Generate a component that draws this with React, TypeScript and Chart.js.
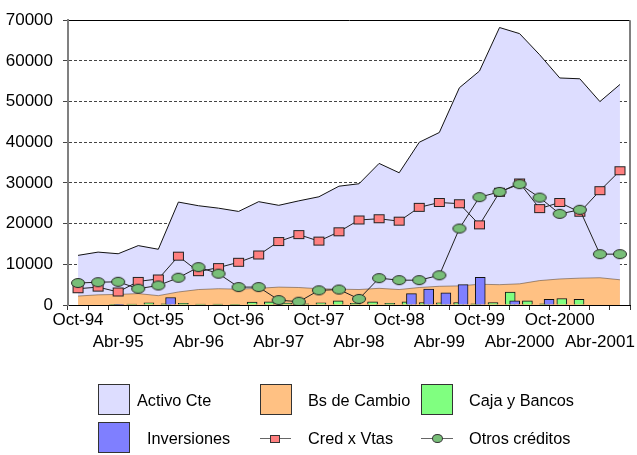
import React, { useEffect, useRef } from 'react';
import { Chart, registerables } from 'chart.js';

Chart.register(...registerables);

const categories = ['Oct-94','Ene-95','Abr-95','Jul-95','Oct-95','Ene-96','Abr-96','Jul-96','Oct-96','Ene-97','Abr-97','Jul-97','Oct-97','Ene-98','Abr-98','Jul-98','Oct-98','Ene-99','Abr-99','Jul-99','Oct-99','Ene-2000','Abr-2000','Jul-2000','Oct-2000','Ene-2001','Abr-2001','Jul-2001'];

const activoCte = [12200,13000,12600,14600,13700,25300,24400,23800,23000,25400,24500,25600,26600,29200,29800,34800,32500,40000,42400,53400,57500,68200,66700,61500,55800,55600,50000,54200];
const bsDeCambio = [2200,2500,2600,2800,2300,3200,3800,4000,3900,4100,4400,4300,4000,3900,3800,4100,3800,4300,4600,4700,5100,5000,5200,6000,6400,6600,6700,6200];
const cajaYBancos = [150,250,550,300,400,250,200,100,700,800,500,300,550,1000,400,800,400,800,600,550,600,300,600,3200,1000,300,1600,1400];
const inversiones = [100,0,0,1850,0,0,0,0,0,0,0,0,0,0,0,0,0,2800,3900,3000,5000,6800,0,1000,0,1400,0,0];
const credXVtas = [4000,4400,3200,5800,6400,12000,8200,9200,10500,12300,15600,17300,15700,18000,20900,21200,20600,24000,25200,24900,19700,27700,30000,23700,25200,22800,28100,33000];
const otrosCreditos = [5400,5600,5700,4000,4800,6700,9300,7700,4400,4400,1200,800,3600,3800,1500,6600,6100,6100,7300,18800,26500,27800,29700,26400,22400,23400,12500,12500];

const yMax = 70000;
const yStep = 5000;
const yLabelStep = 10000;

const FONT = "'Liberation Sans', Arial, sans-serif";
const C_ACTIVO = '#DDDDFF';
const C_BS = '#FFC183';
const C_CAJA = '#80FF80';
const C_INV = '#7F7FFF';
const C_CRED = '#FF7F7F';
const C_OTROS = '#78BE78';

function makeMarker(shape: 'rect' | 'ellipse', w: number, h: number, fill: string) {
  const c = document.createElement('canvas');
  c.width = w + 2;
  c.height = h + 2;
  const ctx = c.getContext('2d')!;
  ctx.fillStyle = fill;
  ctx.strokeStyle = '#222';
  ctx.lineWidth = 1;
  if (shape === 'rect') {
    ctx.fillRect(1, 1, w, h);
    ctx.strokeRect(1.5, 1.5, w - 1, h - 1);
  } else {
    ctx.beginPath();
    ctx.ellipse(c.width / 2, c.height / 2, w / 2 - 0.5, h / 2 - 0.5, 0, 0, Math.PI * 2);
    ctx.fill();
    ctx.stroke();
  }
  return c;
}

const rightBorder = {
  id: 'rightBorder',
  afterDraw(chart: any) {
    const { ctx, chartArea } = chart;
    ctx.save();
    ctx.strokeStyle = '#808080';
    ctx.lineWidth = 2;
    ctx.beginPath();
    ctx.moveTo(chartArea.right, chartArea.top);
    ctx.lineTo(chartArea.right, chartArea.bottom);
    ctx.stroke();
    ctx.restore();
  },
};

const legendBox = (left: number, top: number, color: string): React.CSSProperties => ({
  position: 'absolute', left, top, width: 30, height: 29, background: color, border: '1px solid #333',
});
const legendText = (left: number, cy: number): React.CSSProperties => ({
  position: 'absolute', left, top: cy - 11, height: 22, lineHeight: '22px', fontFamily: FONT, fontSize: 16.3, color: '#000', whiteSpace: 'nowrap',
});

export default function App() {
  const ref = useRef<HTMLCanvasElement>(null);

  useEffect(() => {
    const canvas = ref.current!;
    const sq = makeMarker('rect', 11, 9, C_CRED);
    const el = makeMarker('ellipse', 14, 10, C_OTROS);

    const chart = new Chart(canvas, {
      data: {
        labels: categories,
        datasets: [
          {
            type: 'line', label: 'Otros créditos', data: otrosCreditos, order: 0,
            borderColor: '#222', borderWidth: 1, pointStyle: el as any, pointRadius: 6, fill: false, tension: 0,
          },
          {
            type: 'line', label: 'Cred x Vtas', data: credXVtas, order: 1,
            borderColor: '#222', borderWidth: 1, pointStyle: sq as any, pointRadius: 6, fill: false, tension: 0,
          },
          {
            type: 'bar', label: 'Inversiones', xAxisID: 'xb', order: 2, grouped: false,
            data: inversiones.map((v, i) => ({ x: i + 0.13, y: v })) as any,
            backgroundColor: C_INV, borderColor: '#111', borderWidth: 1, barThickness: 10,
          },
          {
            type: 'bar', label: 'Caja y Bancos', xAxisID: 'xb', order: 3, grouped: false,
            data: cajaYBancos.map((v, i) => ({ x: i - 0.13, y: v })) as any,
            backgroundColor: C_CAJA, borderColor: '#111', borderWidth: 1, barThickness: 10,
          },
          {
            type: 'line', label: 'Bs de Cambio', data: bsDeCambio, order: 4,
            borderColor: 'rgba(90,70,50,0.55)', borderWidth: 1, backgroundColor: C_BS, fill: 'origin', pointRadius: 0, tension: 0,
          },
          {
            type: 'line', label: 'Activo Cte', data: activoCte, order: 5,
            borderColor: '#111', borderWidth: 1, backgroundColor: C_ACTIVO, fill: 'origin', pointRadius: 0, tension: 0,
          },
        ],
      },
      options: {
        animation: false,
        responsive: false,
        maintainAspectRatio: false,
        layout: { padding: { left: 0, right: 3, top: 13, bottom: 100 } },
        plugins: { legend: { display: false }, tooltip: { enabled: false } },
        scales: {
          x: {
            type: 'category',
            offset: true,
            grid: { offset: true, drawOnChartArea: false, tickLength: 5, color: '#000', tickColor: '#333' },
            border: { color: '#000', width: 1 },
            ticks: {
              autoSkip: false, maxRotation: 0, minRotation: 0, padding: 0, color: '#000',
              font: { family: FONT, size: 17, lineHeight: 1.27 },
              callback: (_v: any, i: number) => (i % 2 === 0 ? (i % 4 === 0 ? [categories[i], ''] : ['', categories[i]]) : ''),
            },
            afterFit: (s: any) => { s.height = 50; },
          },
          xb: {
            type: 'linear', display: false, min: -0.5, max: categories.length - 0.5,
          },
          y: {
            type: 'linear', position: 'left', min: 0, max: yMax,
            ticks: {
              stepSize: yStep, padding: 10, color: '#000',
              font: { family: FONT, size: 17 },
              callback: (v: any) => (Number(v) % yLabelStep === 0 ? String(v) : ''),
            },
            grid: {
              tickLength: 5,
              lineWidth: 1,
              color: (c: any) => {
                const v = c.tick ? c.tick.value : 0;
                if (v === yMax) return '#000';
                if (v > 0 && v % yLabelStep === 0) return '#444';
                return 'rgba(0,0,0,0)';
              },
              tickColor: '#444',
            },
            border: {
              color: '#808080', width: 2,
              dash: (c: any) => (c.type === 'tick' && c.tick && c.tick.value !== yMax ? [3, 2] : []),
            } as any,
            afterFit: (s: any) => { s.width = 68; },
          },
        },
      } as any,
      plugins: [rightBorder],
    });
    return () => chart.destroy();
  }, []);

  return (
    <div style={{ position: 'absolute', left: 0, top: 0, width: 637, height: 455, background: '#fff' }}>
      <canvas ref={ref} width={637} height={455} style={{ display: 'block', width: 637, height: 455 }} />
      <div style={legendBox(98, 384, C_ACTIVO)} />
      <div style={legendText(137, 400)}>Activo Cte</div>
      <div style={legendBox(260, 384, C_BS)} />
      <div style={legendText(308, 400)}>Bs de Cambio</div>
      <div style={legendBox(421, 384, C_CAJA)} />
      <div style={legendText(469, 400)}>Caja y Bancos</div>

      <div style={legendBox(98, 422, C_INV)} />
      <div style={legendText(147, 438)}>Inversiones</div>
      <div style={{ position: 'absolute', left: 260, top: 438, width: 31, height: 1, background: '#666' }} />
      <div style={{ position: 'absolute', left: 270, top: 435, width: 8, height: 6, background: C_CRED, border: '1px solid #333' }} />
      <div style={legendText(308, 438)}>Cred x Vtas</div>
      <div style={{ position: 'absolute', left: 421, top: 438, width: 32, height: 1, background: '#666' }} />
      <div style={{ position: 'absolute', left: 432, top: 434, width: 9, height: 7, background: C_OTROS, border: '1px solid #333', borderRadius: '50%' }} />
      <div style={legendText(469, 438)}>Otros créditos</div>
    </div>
  );
}
